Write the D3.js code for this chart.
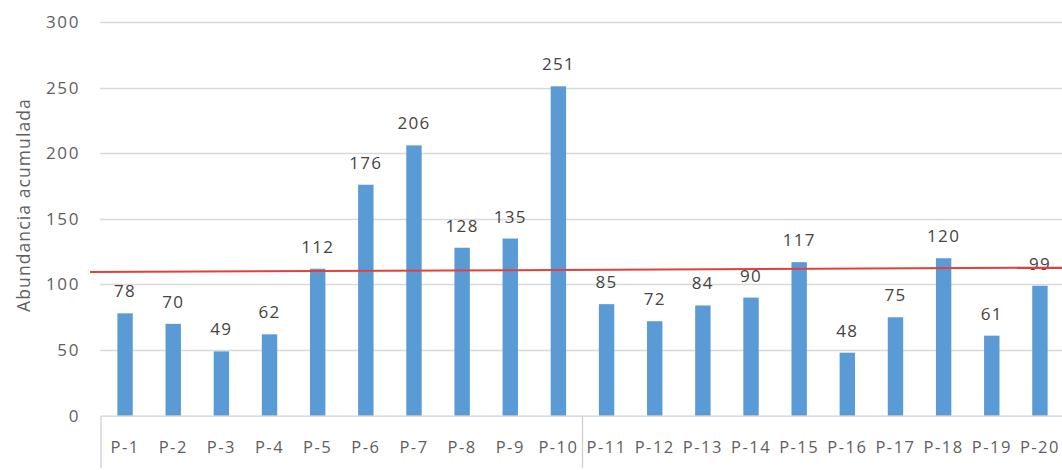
<!DOCTYPE html>
<html>
<head>
<meta charset="utf-8">
<script src="https://cdn.jsdelivr.net/npm/d3@7"></script>
<style>
  html, body { margin: 0; padding: 0; background: #fff; }
  svg { display: block; }
  text { font-family: "Open Sans", sans-serif; }
</style>
</head>
<body>
<svg id="chart" width="1062" height="470"></svg>
<script>
// Sampling points and their accumulated abundance
const categories = ["P-1","P-2","P-3","P-4","P-5","P-6","P-7","P-8","P-9","P-10",
                    "P-11","P-12","P-13","P-14","P-15","P-16","P-17","P-18","P-19","P-20"];
const abundance = [78, 70, 49, 62, 112, 176, 206, 128, 135, 251,
                   85, 72, 84, 90, 117, 48, 75, 120, 61, 99];
const yTicks = [0, 50, 100, 150, 200, 250, 300];
// Reference level drawn across the chart (value at its left and right ends)
const referenceLevel = [109.5, 112.8];
// Group boundaries on the category axis
const groupBreaks = [0, 10];

const W = 1062, H = 470;
const margin = { top: 22, right: -2, bottom: 54, left: 101 };
const svg = d3.select("#chart");

const x = d3.scaleBand()
  .domain(categories)
  .range([margin.left, W - margin.right])
  .paddingInner(0.68)
  .paddingOuter(0.34);

const y = d3.scaleLinear()
  .domain([0, 300])
  .range([H - margin.bottom - 0.3, margin.top]);

const textGray = "#5f5f5f";

// Horizontal gridlines
svg.append("g")
  .selectAll("line")
  .data(yTicks.filter(d => d > 0))
  .join("line")
  .attr("x1", margin.left - 1)
  .attr("x2", W)
  .attr("y1", d => Math.round(y(d)) + 0.5)
  .attr("y2", d => Math.round(y(d)) + 0.5)
  .attr("stroke", "#d9d9d9")
  .attr("stroke-width", 1.3);

// Y axis tick labels
const yAxis = d3.axisLeft(y).tickValues(yTicks).tickSize(0).tickPadding(0);
svg.append("g")
  .attr("transform", `translate(${margin.left - 21},0)`)
  .call(yAxis)
  .call(g => g.select(".domain").remove())
  .call(g => g.selectAll("text")
    .attr("font-family", "Open Sans, sans-serif")
    .attr("font-size", 17)
    .attr("letter-spacing", 1.6)
    .attr("fill", textGray));

// Y axis title
svg.append("text")
  .attr("transform", `translate(30,${205}) rotate(-90)`)
  .attr("text-anchor", "middle")
  .attr("font-size", 17.5)
  .attr("letter-spacing", 1.1)
  .attr("fill", textGray)
  .text("Abundancia acumulada");

// Bars
svg.append("g")
  .selectAll("rect")
  .data(abundance)
  .join("rect")
  .attr("x", (d, i) => x(categories[i]))
  .attr("width", x.bandwidth())
  .attr("y", d => y(d))
  .attr("height", d => y(0) - y(d))
  .attr("fill", "#5b9bd5");

// Category axis baseline and group separators
svg.append("line")
  .attr("x1", margin.left)
  .attr("x2", W)
  .attr("y1", y(0) + 0.5)
  .attr("y2", y(0) + 0.5)
  .attr("stroke", "#d0d0d0")
  .attr("stroke-width", 1.3);

svg.append("g")
  .selectAll("line")
  .data(groupBreaks)
  .join("line")
  .attr("x1", d => x(categories[d]) - x.step() * x.paddingInner() / 2)
  .attr("x2", d => x(categories[d]) - x.step() * x.paddingInner() / 2)
  .attr("y1", y(0))
  .attr("y2", H - 2)
  .attr("stroke", "#d0d0d0")
  .attr("stroke-width", 1.3);

// Category labels
const xAxis = d3.axisBottom(x).tickSize(0).tickPadding(0);
svg.append("g")
  .attr("transform", `translate(0,${y(0) + 26})`)
  .call(xAxis)
  .call(g => g.select(".domain").remove())
  .call(g => g.selectAll("text")
    .attr("font-family", "Open Sans, sans-serif")
    .attr("font-size", 16.5)
    .attr("letter-spacing", 1.5)
    .attr("fill", textGray));

// Value labels above the bars
svg.append("g")
  .selectAll("text")
  .data(abundance)
  .join("text")
  .attr("x", (d, i) => x(categories[i]) + x.bandwidth() / 2)
  .attr("y", d => y(d) - 16)
  .attr("text-anchor", "middle")
  .attr("font-size", 17)
  .attr("letter-spacing", 1.3)
  .attr("fill", "#444444")
  .text(d => d);

// Reference level line
const refX0 = margin.left - 11, refX1 = W;
svg.append("line")
  .attr("x1", refX0)
  .attr("x2", refX1)
  .attr("y1", y(referenceLevel[0]))
  .attr("y2", y(referenceLevel[1]))
  .attr("stroke", "#e2403c")
  .attr("stroke-width", 2);
</script>
</body>
</html>
